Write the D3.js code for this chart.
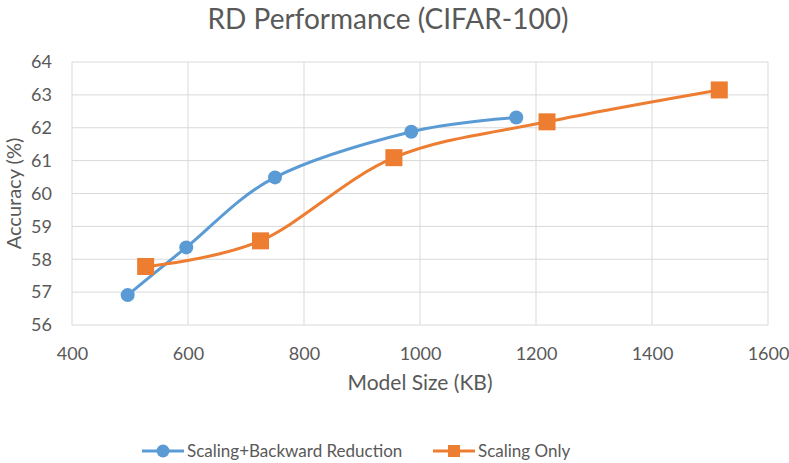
<!DOCTYPE html>
<html>
<head>
<meta charset="utf-8">
<script src="https://cdn.jsdelivr.net/npm/d3@7"></script>
<style>
  body { margin: 0; background: #fff; }
  text { font-family: Lato, "Open Sans", sans-serif; fill: #595959; }
</style>
</head>
<body>
<div class="vis-chart"></div>
<script>
// data
const blueSize = [496, 597, 750, 985, 1166];
const blueAcc = [56.91, 58.36, 60.49, 61.88, 62.31];
const orangeSize = [527, 725, 955, 1219, 1516];
const orangeAcc = [57.78, 58.56, 61.09, 62.18, 63.15];
const seriesNames = ["Scaling+Backward Reduction", "Scaling Only"];
const xTicks = [400, 600, 800, 1000, 1200, 1400, 1600];
const yTicks = [56, 57, 58, 59, 60, 61, 62, 63, 64];

const W = 789, H = 463;
const margin = { top: 62, right: 21, bottom: 138, left: 72 };
const width = W - margin.left - margin.right;
const height = H - margin.top - margin.bottom;
const colors = ["#5B9BD5", "#ED7D31"];

const root = d3.select(".vis-chart").append("svg")
    .attr("width", W)
    .attr("height", H);

const svg = root.append("g")
    .attr("transform", `translate(${margin.left},${margin.top})`);

const x = d3.scaleLinear().domain([400, 1600]).range([0, width]);
const y = d3.scaleLinear().domain([56, 64]).range([height, 0]);

// grid
svg.append("g")
    .selectAll("line")
    .data(xTicks)
    .join("line")
    .attr("x1", d => x(d)).attr("x2", d => x(d))
    .attr("y1", 0).attr("y2", height)
    .attr("stroke", "#D9D9D9").attr("stroke-width", 1);

svg.append("g")
    .selectAll("line")
    .data(yTicks)
    .join("line")
    .attr("x1", 0).attr("x2", width)
    .attr("y1", d => y(d)).attr("y2", d => y(d))
    .attr("stroke", "#D9D9D9").attr("stroke-width", 1);

// axes (labels only, lines come from the grid)
const xAxis = svg.append("g")
    .attr("transform", `translate(0,${height})`)
    .call(d3.axisBottom(x).tickValues(xTicks).tickFormat(d3.format("d")).tickSize(0).tickPadding(22));
xAxis.select(".domain").remove();
xAxis.selectAll("text").style("font-size", "18px").attr("fill", "#595959");

const yAxis = svg.append("g")
    .call(d3.axisLeft(y).tickValues(yTicks).tickSize(0).tickPadding(20));
yAxis.select(".domain").remove();
yAxis.selectAll("text").style("font-size", "18px").attr("fill", "#595959");

// titles
root.append("text")
    .attr("x", 388)
    .attr("y", 29)
    .attr("text-anchor", "middle")
    .style("font-size", "28px")
    .text("RD Performance (CIFAR-100)");

root.append("text")
    .attr("x", 420)
    .attr("y", 390)
    .attr("text-anchor", "middle")
    .style("font-size", "21px")
    .text("Model Size (KB)");

root.append("text")
    .attr("transform", "rotate(-90)")
    .attr("x", -(margin.top + height / 2))
    .attr("y", 21)
    .attr("text-anchor", "middle")
    .style("font-size", "20px")
    .text("Accuracy (%)");

const line = d3.line()
    .x(d => x(d[0]))
    .y(d => y(d[1]))
    .curve(d3.curveCatmullRom.alpha(0));

const series = [
    d3.zip(blueSize, blueAcc),
    d3.zip(orangeSize, orangeAcc)
];

series.forEach((pts, i) => {
    svg.append("path")
        .datum(pts)
        .attr("fill", "none")
        .attr("stroke", colors[i])
        .attr("stroke-width", 3)
        .attr("stroke-linejoin", "round")
        .attr("d", line);
});

// markers
svg.selectAll("circle.m")
    .data(series[0])
    .join("circle")
    .attr("cx", d => x(d[0]))
    .attr("cy", d => y(d[1]))
    .attr("r", 7)
    .attr("fill", colors[0]);

const sq = 17;
svg.selectAll("rect.m")
    .data(series[1])
    .join("rect")
    .attr("x", d => x(d[0]) - sq / 2)
    .attr("y", d => y(d[1]) - sq / 2)
    .attr("width", sq)
    .attr("height", sq)
    .attr("fill", colors[1]);

// legend
const legendX = [142, 433];
seriesNames.forEach((name, i) => {
    const g = root.append("g").attr("transform", `translate(${legendX[i]},451)`);
    g.append("line")
        .attr("x1", 0).attr("x2", 42)
        .attr("y1", 0).attr("y2", 0)
        .attr("stroke", colors[i]).attr("stroke-width", 3);
    if (i === 0) {
        g.append("circle").attr("cx", 21).attr("cy", 0).attr("r", 6.5).attr("fill", colors[i]);
    } else {
        g.append("rect").attr("x", 15).attr("y", -6).attr("width", 12).attr("height", 12).attr("fill", colors[i]);
    }
    g.append("text")
        .attr("x", 45)
        .attr("y", 6)
        .style("font-size", "17px")
        .text(name);
});
</script>
</body>
</html>
